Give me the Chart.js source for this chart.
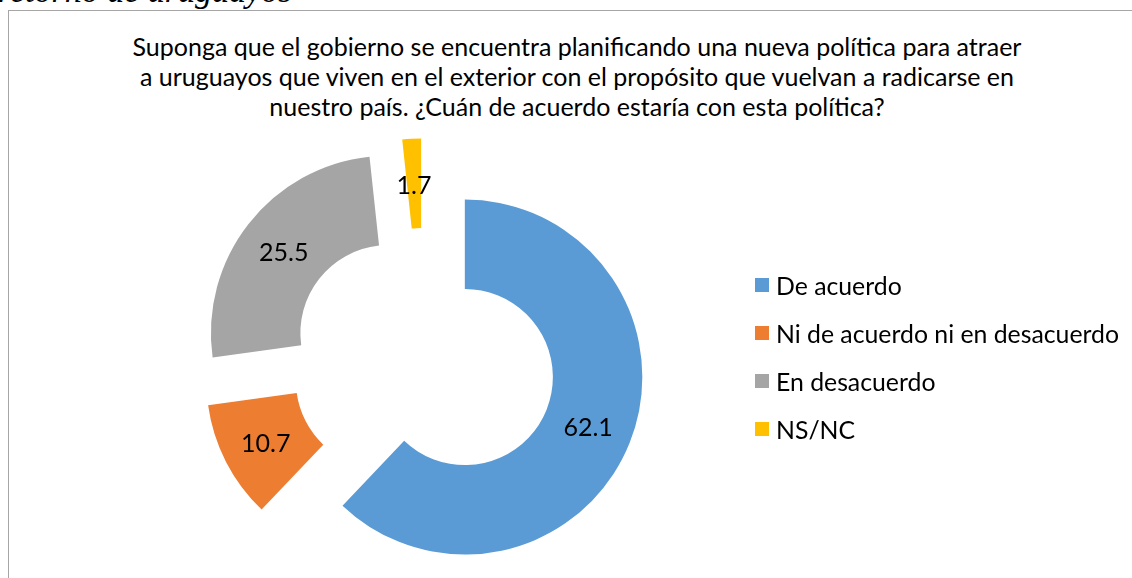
<!DOCTYPE html>
<html>
<head>
<meta charset="utf-8">
<script src="https://cdn.jsdelivr.net/npm/chart.js@4.4.1/dist/chart.umd.min.js"></script>
<style>
  html, body { margin: 0; padding: 0; background: #fff; width: 1132px; height: 578px; overflow: hidden; }
  #wrap { position: relative; width: 1132px; height: 578px; }
  #caption { position: absolute; left: -2px; top: -29px; font-family: "Liberation Serif", serif; font-style: italic; font-size: 34px; line-height: 40px; color: #000; white-space: nowrap; }
  #frame { position: absolute; left: 8px; top: 10px; width: 1200px; height: 700px; border-left: 1px solid #a6a6a6; border-top: 1px solid #a6a6a6; background: transparent; }
  #title { position: absolute; left: 0; top: 31px; width: 1154px; text-align: center; font-family: Lato, sans-serif; font-size: 25px; line-height: 30px; color: #000; }
  #c { position: absolute; left: 0; top: 0; }
  .lg { position: absolute; left: 755px; height: 30px; display: flex; align-items: center; font-family: Lato, sans-serif; font-size: 24.8px; color: #000; white-space: nowrap; }
  .lg span.sw { display: inline-block; width: 14px; height: 14px; margin-right: 7px; }
</style>
</head>
<body>
<div id="wrap">
  <div id="caption"></div>
  <div id="frame"></div>
  <div id="title"></div>
  <canvas id="c" width="1132" height="578"></canvas>
  <div id="legend"></div>
</div>
<script>
// ---- data ----
const captionText = "retorno de uruguayos";
const titleLines = [
  "Suponga que el gobierno se encuentra planificando una nueva política para atraer",
  "a uruguayos que viven en el exterior con el propósito que vuelvan a radicarse en",
  "nuestro país. ¿Cuán de acuerdo estaría con esta política?"
];
const categories = ["De acuerdo", "Ni de acuerdo ni en desacuerdo", "En desacuerdo", "NS/NC"];
const values = [62.1, 10.7, 25.5, 1.7];
const colors = ["#5B9BD5", "#ED7D31", "#A5A5A5", "#FFC000"];

// ---- layout / style ----
const CX = 423.5, CY = 360.5;
const EXPLODE = 44.5;      // px radial shift of every slice
const OUTER_R = 177.5;
const W = 1132, H = 578, HALF = 200;

document.getElementById('caption').textContent = captionText;
const t = document.getElementById('title');
titleLines.forEach((l, i) => { if (i) t.appendChild(document.createElement('br')); t.appendChild(document.createTextNode(l)); });

const lg = document.getElementById('legend');
const rowCenters = [285, 333, 381, 429];
categories.forEach((c, i) => {
  const d = document.createElement('div');
  d.className = 'lg';
  d.style.top = (rowCenters[i] - 15) + 'px';
  const sw = document.createElement('span');
  sw.className = 'sw';
  sw.style.background = colors[i];
  d.appendChild(sw);
  d.appendChild(document.createTextNode(c));
  lg.appendChild(d);
});

// Draw every arc element shifted radially by EXPLODE px (Excel-style exploded doughnut)
const explodePlugin = {
  id: 'explode',
  beforeDatasetDraw(chart, args) {
    const ctx = chart.ctx;
    const meta = args.meta;
    meta.data.forEach(arc => {
      const mid = (arc.startAngle + arc.endAngle) / 2;
      ctx.save();
      ctx.translate(Math.cos(mid) * EXPLODE, Math.sin(mid) * EXPLODE);
      arc.draw(ctx, chart.chartArea);
      ctx.restore();
    });
    return false;
  }
};

const labelPlugin = {
  id: 'sliceLabels',
  afterDatasetsDraw(chart) {
    const ctx = chart.ctx;
    const meta = chart.getDatasetMeta(0);
    ctx.save();
    ctx.font = '25px Lato, sans-serif';
    ctx.fillStyle = '#000';
    ctx.textAlign = 'center';
    ctx.textBaseline = 'middle';
    meta.data.forEach((arc, i) => {
      const mid = (arc.startAngle + arc.endAngle) / 2;
      const r = EXPLODE + (arc.innerRadius + arc.outerRadius) / 2;
      ctx.fillText(String(values[i]), arc.x + Math.cos(mid) * r, arc.y + Math.sin(mid) * r + 2);
    });
    ctx.restore();
  }
};

new Chart(document.getElementById('c'), {
  type: 'doughnut',
  data: {
    labels: categories,
    datasets: [{
      data: values,
      backgroundColor: colors,
      borderWidth: 0,
      offset: 0,
      hoverOffset: 0,
      clip: false
    }]
  },
  options: {
    responsive: false,
    animation: false,
    events: [],
    radius: OUTER_R,
    cutout: '49.6%',
    layout: { padding: { left: CX - HALF, right: W - CX - HALF, top: CY - HALF, bottom: H - CY - HALF } },
    plugins: { legend: { display: false }, title: { display: false }, tooltip: { enabled: false } }
  },
  plugins: [explodePlugin, labelPlugin]
});
</script>
</body>
</html>
